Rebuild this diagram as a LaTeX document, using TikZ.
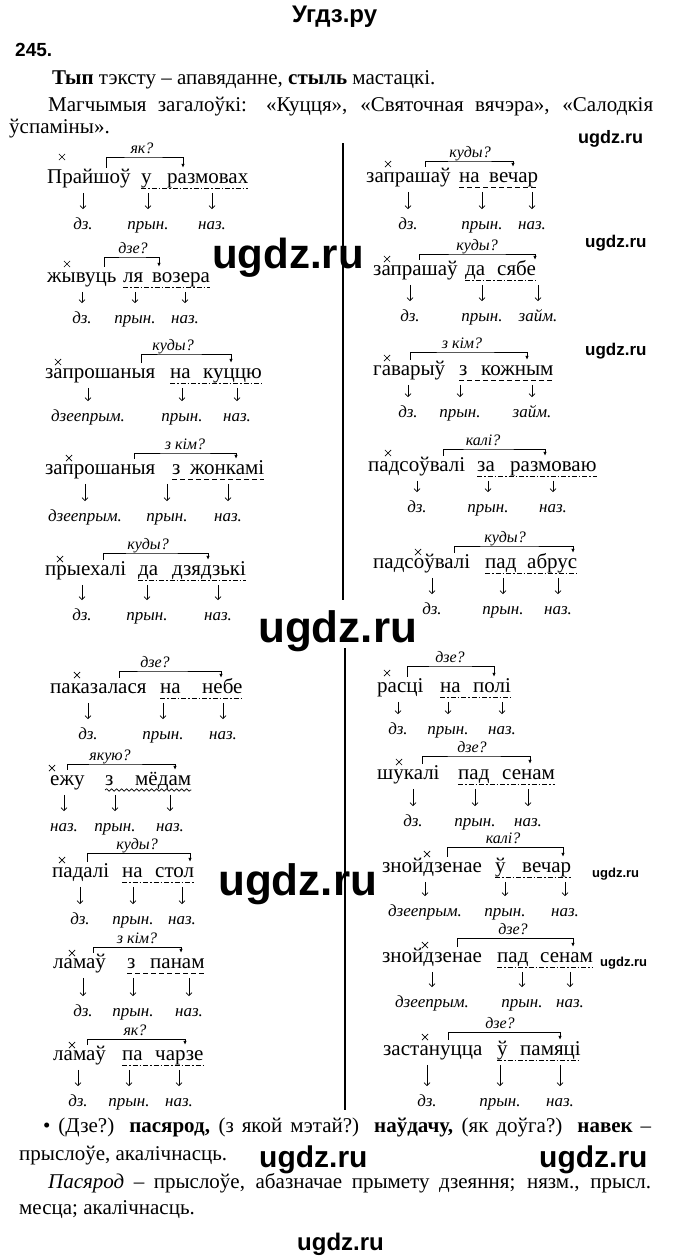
\documentclass[tikz,border=0pt]{standalone}
\usepackage{fontspec}
\setmainfont{Liberation Serif}
\newfontfamily\wmfont{Liberation Sans}
\usetikzlibrary{arrows.meta,decorations.pathmorphing,shapes.misc}
\begin{document}
\begin{tikzpicture}[x=1pt, y=-1pt,
  wd/.style={font=\fontsize{21}{21}\selectfont, inner sep=0pt, anchor=base west, text height=15pt, text depth=4.6pt},
  lbl/.style={font=\fontsize{17}{17}\selectfont\itshape, inner sep=0pt, text height=12pt, text depth=3.4pt},
  qn/.style={font=\fontsize{16}{16}\selectfont\itshape, inner sep=0pt, anchor=south, text height=11pt, text depth=3.2pt},
  xm/.style={cross out, draw, line width=.7pt, inner sep=0pt, minimum size=5.5pt},
  brk/.style={line width=.8pt, -{Latex[length=4pt,width=3.5pt]}},
  dn/.style={line width=.7pt, -{Straight Barb[length=3pt,width=6pt]}, shorten <=5pt, shorten >=8pt},
  ulda/.style={line width=.7pt, dash pattern=on 5pt off 2pt on 1.5pt off 2pt},
  uldd/.style={line width=.7pt, dash pattern=on 5pt off 3pt},
  ulwv/.style={line width=.7pt, decorate, decoration={snake, amplitude=1.2pt, segment length=5pt}},
  txt/.style={font=\fontsize{21}{21}\selectfont, inner sep=0pt, anchor=base west},
  wm/.style={font=\wmfont\bfseries\fontsize{#1}{#1}\selectfont, inner sep=0pt, anchor=base west},
  sep/.style={line width=1.5pt}]
  \useasboundingbox (0,0) rectangle (680,1258);

  \node[wm=24] (head) at (292,22) {Угдз.ру};
  \node[wm=19] (num) at (15,56) {245.};
  \node[txt] (t1) at (52,84) {\textbf{Тып} тэксту – апавяданне, \textbf{стыль} мастацкі.};
  \node[txt] (t2) at (48,111) {\makebox[605pt][s]{Магчымыя загалоўкі: «Куцця», «Святочная вячэра», «Салодкія}};
  \node[txt] (t3) at (9,133) {ўспаміны».};

  \draw[sep] (343,143) -- (343,600);
  \draw[sep] (345,648) -- (345,1110);

  \node[xm] (x1) at (62,157) {};
  \node[wd] (v1) at (47,183) {Прайшоў};
  \node[wd] (p1) at (141,183) {у};
  \node[wd] (n1) at (167,183) {размовах};
  \node[qn] (q1) at (142,157) {як?};
  \draw[brk] ([xshift=59pt]v1.north west) |- (q1.south) -| ([xshift=16pt]n1.north west);
  \draw[ulda] ([yshift=-5pt]p1.base west) -- ([yshift=-5pt]n1.base east);
  \node[lbl] (lv1) at (83,225) {дз.};
  \node[lbl] (lp1) at (148,225) {прын.};
  \node[lbl] (ln1) at (212,225) {наз.};
  \draw[dn] (v1.south -| lv1.north) -- (lv1.north);
  \draw[dn] (p1.south -| lp1.north) -- (lp1.north);
  \draw[dn] (n1.south -| ln1.north) -- (ln1.north);

  \node[xm] (x2) at (67,264) {};
  \node[wd] (v2) at (47,282) {жывуць};
  \node[wd] (p2) at (123,282) {ля};
  \node[wd] (n2) at (152,282) {возера};
  \node[qn] (q2) at (133,257) {дзе?};
  \draw[brk] ([xshift=57pt]v2.north west) |- (q2.south) -| ([xshift=7pt]n2.north west);
  \draw[ulda] ([yshift=-5pt]p2.base west) -- ([yshift=-5pt]n2.base east);
  \node[lbl] (lv2) at (82,319) {дз.};
  \node[lbl] (lp2) at (135,319) {прын.};
  \node[lbl] (ln2) at (185,319) {наз.};
  \draw[dn] (v2.south -| lv2.north) -- (lv2.north);
  \draw[dn] (p2.south -| lp2.north) -- (lp2.north);
  \draw[dn] (n2.south -| ln2.north) -- (ln2.north);

  \node[xm] (x3) at (58,362) {};
  \node[wd] (v3) at (45,378) {запрошаныя};
  \node[wd] (p3) at (170,378) {на};
  \node[wd] (n3) at (203,378) {куццю};
  \node[qn] (q3) at (173,354) {куды?};
  \draw[brk] ([xshift=96pt]v3.north west) |- (q3.south) -| ([xshift=28pt]n3.north west);
  \draw[ulda] ([yshift=-5pt]p3.base west) -- ([yshift=-5pt]n3.base east);
  \node[lbl] (lv3) at (88,417) {дзеепрым.};
  \node[lbl] (lp3) at (182,417) {прын.};
  \node[lbl] (ln3) at (237,417) {наз.};
  \draw[dn] (v3.south -| lv3.north) -- (lv3.north);
  \draw[dn] (p3.south -| lp3.north) -- (lp3.north);
  \draw[dn] (n3.south -| ln3.north) -- (ln3.north);

  \node[xm] (x4) at (69,458) {};
  \node[wd] (v4) at (45,474) {запрошаныя};
  \node[wd] (p4) at (172,474) {з};
  \node[wd] (n4) at (190,474) {жонкамі};
  \node[qn] (q4) at (185,453) {з кім?};
  \draw[brk] ([xshift=89pt]v4.north west) |- (q4.south) -| ([xshift=46pt]n4.north west);
  \draw[uldd] ([yshift=-5pt]p4.base west) -- ([yshift=-5pt]n4.base east);
  \node[lbl] (lv4) at (85,517) {дзеепрым.};
  \node[lbl] (lp4) at (167,517) {прын.};
  \node[lbl] (ln4) at (228,517) {наз.};
  \draw[dn] (v4.south -| lv4.north) -- (lv4.north);
  \draw[dn] (p4.south -| lp4.north) -- (lp4.north);
  \draw[dn] (n4.south -| ln4.north) -- (ln4.north);

  \node[xm] (x5) at (60,559) {};
  \node[wd] (v5) at (45,575) {прыехалі};
  \node[wd] (p5) at (138,575) {да};
  \node[wd] (n5) at (172,575) {дзядзькі};
  \node[qn] (q5) at (148,553) {куды?};
  \draw[brk] ([xshift=58pt]v5.north west) |- (q5.south) -| ([xshift=36pt]n5.north west);
  \draw[ulda] ([yshift=-5pt]p5.base west) -- ([yshift=-5pt]n5.base east);
  \node[lbl] (lv5) at (82,616) {дз.};
  \node[lbl] (lp5) at (147,616) {прын.};
  \node[lbl] (ln5) at (218,616) {наз.};
  \draw[dn] (v5.south -| lv5.north) -- (lv5.north);
  \draw[dn] (p5.south -| lp5.north) -- (lp5.north);
  \draw[dn] (n5.south -| ln5.north) -- (ln5.north);

  \node[xm] (x6) at (388,164) {};
  \node[wd] (v6) at (366,182) {запрашаў};
  \node[wd] (p6) at (459,182) {на};
  \node[wd] (n6) at (489,182) {вечар};
  \node[qn] (q6) at (470,161) {куды?};
  \draw[brk] ([xshift=59pt]v6.north west) |- (q6.south) -| ([xshift=24pt]n6.north west);
  \draw[uldd] ([yshift=-5pt]p6.base west) -- ([yshift=-5pt]n6.base east);
  \node[lbl] (lv6) at (408,225) {дз.};
  \node[lbl] (lp6) at (482,225) {прын.};
  \node[lbl] (ln6) at (532,225) {наз.};
  \draw[dn] (v6.south -| lv6.north) -- (lv6.north);
  \draw[dn] (p6.south -| lp6.north) -- (lp6.north);
  \draw[dn] (n6.south -| ln6.north) -- (ln6.north);

  \node[xm] (x7) at (387,259) {};
  \node[wd] (v7) at (373,275) {запрашаў};
  \node[wd] (p7) at (465,275) {да};
  \node[wd] (n7) at (497,275) {сябе};
  \node[qn] (q7) at (477,254) {куды?};
  \draw[brk] ([xshift=46pt]v7.north west) |- (q7.south) -| ([xshift=38pt]n7.north west);
  \draw[ulda] ([yshift=-5pt]p7.base west) -- ([yshift=-5pt]n7.base east);
  \node[lbl] (lv7) at (410,317) {дз.};
  \node[lbl] (lp7) at (482,317) {прын.};
  \node[lbl] (ln7) at (538,317) {займ.};
  \draw[dn] (v7.south -| lv7.north) -- (lv7.north);
  \draw[dn] (p7.south -| lp7.north) -- (lp7.north);
  \draw[dn] (n7.south -| ln7.north) -- (ln7.north);

  \node[xm] (x8) at (387,358) {};
  \node[wd] (v8) at (373,375) {гаварыў};
  \node[wd] (p8) at (459,375) {з};
  \node[wd] (n8) at (481,375) {кожным};
  \node[qn] (q8) at (462,352) {з кім?};
  \draw[brk] ([xshift=37pt]v8.north west) |- (q8.south) -| ([xshift=46pt]n8.north west);
  \draw[uldd] ([yshift=-5pt]p8.base west) -- ([yshift=-5pt]n8.base east);
  \node[lbl] (lv8) at (408,413) {дз.};
  \node[lbl] (lp8) at (460,413) {прын.};
  \node[lbl] (ln8) at (532,413) {займ.};
  \draw[dn] (v8.south -| lv8.north) -- (lv8.north);
  \draw[dn] (p8.south -| lp8.north) -- (lp8.north);
  \draw[dn] (n8.south -| ln8.north) -- (ln8.north);

  \node[xm] (x9) at (388,453) {};
  \node[wd] (v9) at (368,471) {падсоўвалі};
  \node[wd] (p9) at (477,471) {за};
  \node[wd] (n9) at (510,471) {размоваю};
  \node[qn] (q9) at (483,449) {калі?};
  \draw[brk] ([xshift=75pt]v9.north west) |- (q9.south) -| ([xshift=35pt]n9.north west);
  \draw[ulda] ([yshift=-5pt]p9.base west) -- ([yshift=-5pt]n9.base east);
  \node[lbl] (lv9) at (417,508) {дз.};
  \node[lbl] (lp9) at (488,508) {прын.};
  \node[lbl] (ln9) at (553,508) {наз.};
  \draw[dn] (v9.south -| lv9.north) -- (lv9.north);
  \draw[dn] (p9.south -| lp9.north) -- (lp9.north);
  \draw[dn] (n9.south -| ln9.north) -- (ln9.north);

  \node[xm] (x10) at (418,552) {};
  \node[wd] (v10) at (373,568) {падсоўвалі};
  \node[wd] (p10) at (485,568) {пад};
  \node[wd] (n10) at (527,568) {абрус};
  \node[qn] (q10) at (505,546) {куды?};
  \draw[brk] ([xshift=81pt]v10.north west) |- (q10.south) -| ([xshift=46pt]n10.north west);
  \draw[ulda] ([yshift=-5pt]p10.base west) -- ([yshift=-5pt]n10.base east);
  \node[lbl] (lv10) at (432,610) {дз.};
  \node[lbl] (lp10) at (503,610) {прын.};
  \node[lbl] (ln10) at (558,610) {наз.};
  \draw[dn] (v10.south -| lv10.north) -- (lv10.north);
  \draw[dn] (p10.south -| lp10.north) -- (lp10.north);
  \draw[dn] (n10.south -| ln10.north) -- (ln10.north);

  \node[xm] (x11) at (77,675) {};
  \node[wd] (v11) at (50,693) {паказалася};
  \node[wd] (p11) at (160,693) {на};
  \node[wd] (n11) at (202,693) {небе};
  \node[qn] (q11) at (155,671) {дзе?};
  \draw[brk] ([xshift=69pt]v11.north west) |- (q11.south) -| ([xshift=19pt]n11.north west);
  \draw[ulda] ([yshift=-5pt]p11.base west) -- ([yshift=-5pt]n11.base east);
  \node[lbl] (lv11) at (88,735) {дз.};
  \node[lbl] (lp11) at (163,735) {прын.};
  \node[lbl] (ln11) at (223,735) {наз.};
  \draw[dn] (v11.south -| lv11.north) -- (lv11.north);
  \draw[dn] (p11.south -| lp11.north) -- (lp11.north);
  \draw[dn] (n11.south -| ln11.north) -- (ln11.north);

  \node[xm] (x12) at (52,768) {};
  \node[wd] (v12) at (50,785) {ежу};
  \node[wd] (p12) at (105,785) {з};
  \node[wd] (n12) at (135,785) {мёдам};
  \node[qn] (q12) at (110,764) {якую?};
  \draw[brk] ([xshift=17pt]v12.north west) |- (q12.south) -| ([xshift=40pt]n12.north west);
  \draw[ulwv] ([yshift=-5pt]p12.base west) -- ([yshift=-5pt]n12.base east);
  \node[lbl] (lv12) at (64,827) {наз.};
  \node[lbl] (lp12) at (115,827) {прын.};
  \node[lbl] (ln12) at (170,827) {наз.};
  \draw[dn] (v12.south -| lv12.north) -- (lv12.north);
  \draw[dn] (p12.south -| lp12.north) -- (lp12.north);
  \draw[dn] (n12.south -| ln12.north) -- (ln12.north);

  \node[xm] (x13) at (62,860) {};
  \node[wd] (v13) at (52,877) {падалі};
  \node[wd] (p13) at (122,877) {на};
  \node[wd] (n13) at (155,877) {стол};
  \node[qn] (q13) at (137,853) {куды?};
  \draw[brk] ([xshift=35pt]v13.north west) |- (q13.south) -| ([xshift=35pt]n13.north west);
  \draw[ulda] ([yshift=-5pt]p13.base west) -- ([yshift=-5pt]n13.base east);
  \node[lbl] (lv13) at (80,920) {дз.};
  \node[lbl] (lp13) at (133,920) {прын.};
  \node[lbl] (ln13) at (182,920) {наз.};
  \draw[dn] (v13.south -| lv13.north) -- (lv13.north);
  \draw[dn] (p13.south -| lp13.north) -- (lp13.north);
  \draw[dn] (n13.south -| ln13.north) -- (ln13.north);

  \node[xm] (x14) at (72,953) {};
  \node[wd] (v14) at (53,968) {ламаў};
  \node[wd] (p14) at (127,968) {з};
  \node[wd] (n14) at (150,968) {панам};
  \node[qn] (q14) at (137,947) {з кім?};
  \draw[brk] ([xshift=40pt]v14.north west) |- (q14.south) -| ([xshift=31pt]n14.north west);
  \draw[uldd] ([yshift=-5pt]p14.base west) -- ([yshift=-5pt]n14.base east);
  \node[lbl] (lv14) at (83,1012) {дз.};
  \node[lbl] (lp14) at (133,1012) {прын.};
  \node[lbl] (ln14) at (189,1012) {наз.};
  \draw[dn] (v14.south -| lv14.north) -- (lv14.north);
  \draw[dn] (p14.south -| lp14.north) -- (lp14.north);
  \draw[dn] (n14.south -| ln14.north) -- (ln14.north);

  \node[xm] (x15) at (72,1045) {};
  \node[wd] (v15) at (53,1060) {ламаў};
  \node[wd] (p15) at (122,1060) {па};
  \node[wd] (n15) at (155,1060) {чарзе};
  \node[qn] (q15) at (135,1039) {як?};
  \draw[brk] ([xshift=34pt]v15.north west) |- (q15.south) -| ([xshift=30pt]n15.north west);
  \draw[ulda] ([yshift=-5pt]p15.base west) -- ([yshift=-5pt]n15.base east);
  \node[lbl] (lv15) at (78,1102) {дз.};
  \node[lbl] (lp15) at (129,1102) {прын.};
  \node[lbl] (ln15) at (179,1102) {наз.};
  \draw[dn] (v15.south -| lv15.north) -- (lv15.north);
  \draw[dn] (p15.south -| lp15.north) -- (lp15.north);
  \draw[dn] (n15.south -| ln15.north) -- (ln15.north);

  \node[xm] (x16) at (387,673) {};
  \node[wd] (v16) at (377,692) {расці};
  \node[wd] (p16) at (440,692) {на};
  \node[wd] (n16) at (473,692) {полі};
  \node[qn] (q16) at (450,666) {дзе?};
  \draw[brk] ([xshift=30pt]v16.north west) |- (q16.south) -| ([xshift=21pt]n16.north west);
  \draw[ulda] ([yshift=-5pt]p16.base west) -- ([yshift=-5pt]n16.base east);
  \node[lbl] (lv16) at (398,730) {дз.};
  \node[lbl] (lp16) at (448,730) {прын.};
  \node[lbl] (ln16) at (502,730) {наз.};
  \draw[dn] (v16.south -| lv16.north) -- (lv16.north);
  \draw[dn] (p16.south -| lp16.north) -- (lp16.north);
  \draw[dn] (n16.south -| ln16.north) -- (ln16.north);

  \node[xm] (x17) at (399,762) {};
  \node[wd] (v17) at (377,779) {шукалі};
  \node[wd] (p17) at (458,779) {пад};
  \node[wd] (n17) at (502,779) {сенам};
  \node[qn] (q17) at (472,756) {дзе?};
  \draw[brk] ([xshift=45pt]v17.north west) |- (q17.south) -| ([xshift=28pt]n17.north west);
  \draw[ulda] ([yshift=-5pt]p17.base west) -- ([yshift=-5pt]n17.base east);
  \node[lbl] (lv17) at (413,822) {дз.};
  \node[lbl] (lp17) at (475,822) {прын.};
  \node[lbl] (ln17) at (528,822) {наз.};
  \draw[dn] (v17.south -| lv17.north) -- (lv17.north);
  \draw[dn] (p17.south -| lp17.north) -- (lp17.north);
  \draw[dn] (n17.south -| ln17.north) -- (ln17.north);

  \node[xm] (x18) at (427,854) {};
  \node[wd] (v18) at (382,872) {знойдзенае};
  \node[wd] (p18) at (495,872) {ў};
  \node[wd] (n18) at (522,872) {вечар};
  \node[qn] (q18) at (503,847) {калі?};
  \draw[brk] ([xshift=65pt]v18.north west) |- (q18.south) -| ([xshift=41pt]n18.north west);
  \draw[ulda] ([yshift=-5pt]p18.base west) -- ([yshift=-5pt]n18.base east);
  \node[lbl] (lv18) at (425,912) {дзеепрым.};
  \node[lbl] (lp18) at (505,912) {прын.};
  \node[lbl] (ln18) at (565,912) {наз.};
  \draw[dn] (v18.south -| lv18.north) -- (lv18.north);
  \draw[dn] (p18.south -| lp18.north) -- (lp18.north);
  \draw[dn] (n18.south -| ln18.north) -- (ln18.north);

  \node[xm] (x19) at (425,945) {};
  \node[wd] (v19) at (382,962) {знойдзенае};
  \node[wd] (p19) at (497,962) {пад};
  \node[wd] (n19) at (540,962) {сенам};
  \node[qn] (q19) at (513,938) {дзе?};
  \draw[brk] ([xshift=75pt]v19.north west) |- (q19.south) -| ([xshift=33pt]n19.north west);
  \draw[ulda] ([yshift=-5pt]p19.base west) -- ([yshift=-5pt]n19.base east);
  \node[lbl] (lv19) at (432,1003) {дзеепрым.};
  \node[lbl] (lp19) at (522,1003) {прын.};
  \node[lbl] (ln19) at (570,1003) {наз.};
  \draw[dn] (v19.south -| lv19.north) -- (lv19.north);
  \draw[dn] (p19.south -| lp19.north) -- (lp19.north);
  \draw[dn] (n19.south -| ln19.north) -- (ln19.north);

  \node[xm] (x20) at (425,1037) {};
  \node[wd] (v20) at (383,1055) {застануцца};
  \node[wd] (p20) at (497,1055) {ў};
  \node[wd] (n20) at (520,1055) {памяці};
  \node[qn] (q20) at (500,1032) {дзе?};
  \draw[brk] ([xshift=65pt]v20.north west) |- (q20.south) -| ([xshift=40pt]n20.north west);
  \draw[ulda] ([yshift=-5pt]p20.base west) -- ([yshift=-5pt]n20.base east);
  \node[lbl] (lv20) at (427,1102) {дз.};
  \node[lbl] (lp20) at (500,1102) {прын.};
  \node[lbl] (ln20) at (560,1102) {наз.};
  \draw[dn] (v20.south -| lv20.north) -- (lv20.north);
  \draw[dn] (p20.south -| lp20.north) -- (lp20.north);
  \draw[dn] (n20.south -| ln20.north) -- (ln20.north);

  \node[txt] (b1) at (43,1132) {\makebox[608pt][s]{• (Дзе?) \textbf{пасярод,} (з якой мэтай?) \textbf{наўдачу,} (як доўга?) \textbf{навек} –}};
  \node[txt] (b2) at (19,1160) {прыслоўе, акалічнасць.};
  \node[txt] (b3) at (48,1188) {\makebox[603pt][s]{\textit{Пасярод} – прыслоўе, абазначае прымету дзеяння; нязм., прысл.}};
  \node[txt] (b4) at (19,1214) {месца; акалічнасць.};

  \node[wm=18] (wa) at (578,143) {ugdz.ru};
  \node[wm=42] (wb) at (212,268) {ugdz.ru};
  \node[wm=17] (wc) at (585,247) {ugdz.ru};
  \node[wm=17] (wd) at (585,355) {ugdz.ru};
  \node[wm=44] (we) at (258,642) {ugdz.ru};
  \node[wm=44] (wf) at (218,895) {ugdz.ru};
  \node[wm=13] (wg) at (592,877) {ugdz.ru};
  \node[wm=13] (wh) at (600,966) {ugdz.ru};
  \node[wm=30] (wi) at (259,1167) {ugdz.ru};
  \node[wm=30] (wj) at (539,1167) {ugdz.ru};
  \node[wm=24] (wk) at (297,1250) {ugdz.ru};
\end{tikzpicture}
\end{document}
